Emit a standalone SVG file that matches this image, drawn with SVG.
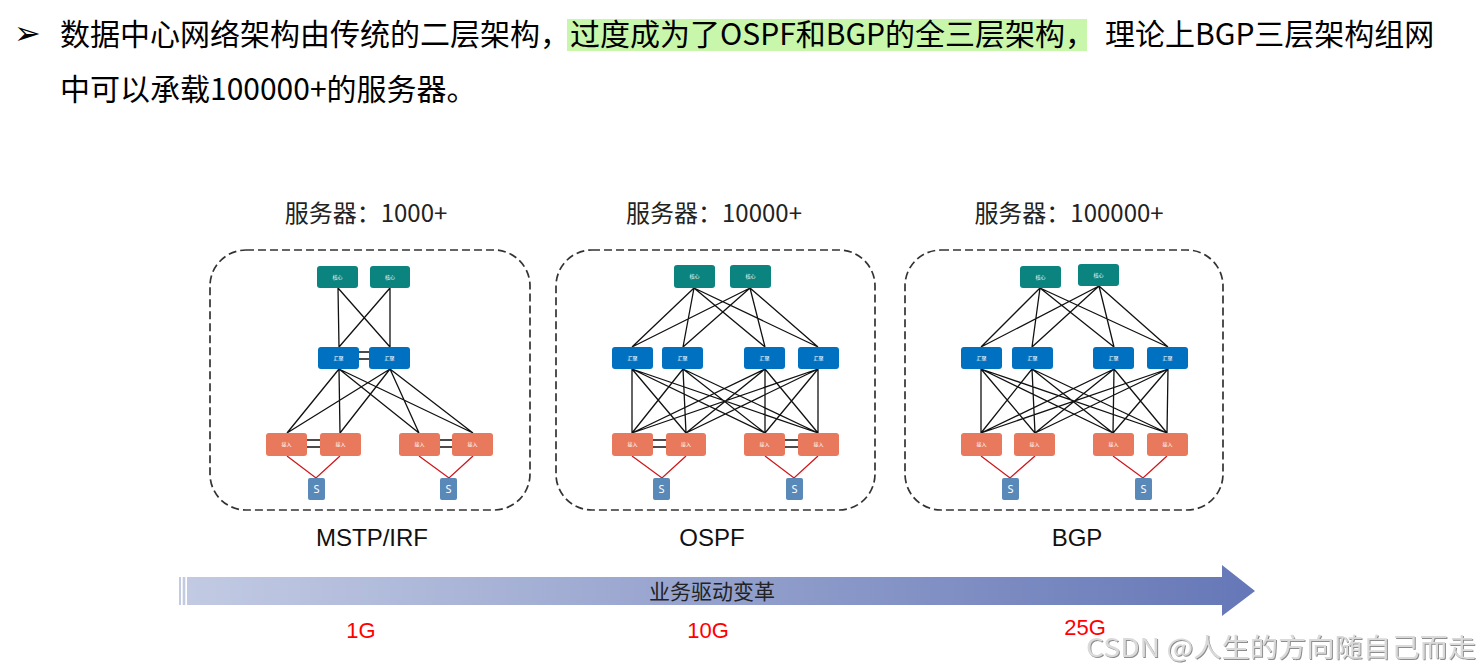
<svg xmlns="http://www.w3.org/2000/svg" width="1483" height="672" viewBox="0 0 1483 672">
<style>
.core{fill:#0B8480}
.agg{fill:#0070C0}
.acc{fill:#E8795C}
.srv{fill:#5889B8}
.lbl{font-family:"Noto Sans CJK SC",sans-serif;font-size:5px;fill:#fff;text-anchor:middle}
.st{font-family:"Noto Sans","Liberation Sans",sans-serif;font-size:11px;fill:#fff;text-anchor:middle}
.ln{stroke:#111;stroke-width:1.3;fill:none}
.rd{stroke:#D0161B;stroke-width:1.3;fill:none}
.frame{fill:none;stroke:#333;stroke-width:1.7;stroke-dasharray:8 4}
.hdr{font-family:"Noto Sans CJK SC",sans-serif;font-size:30px;fill:#000}
.ttl{font-family:"Noto Sans CJK SC",sans-serif;font-size:24px;fill:#222;text-anchor:middle}
.nm{font-family:"Liberation Sans",Arial,sans-serif;font-size:24px;fill:#111;text-anchor:middle}
.bw{font-family:"Liberation Sans",Arial,sans-serif;font-size:22px;fill:#FF0000;text-anchor:middle}
</style>
<defs>
<linearGradient id="ag" gradientUnits="userSpaceOnUse" x1="178" y1="0" x2="1256" y2="0">
<stop offset="0" stop-color="#C3CBE3"/>
<stop offset="1" stop-color="#6577B7"/>
</linearGradient>
<filter id="sh" x="-5%" y="-20%" width="110%" height="140%">
<feDropShadow dx="1" dy="1" stdDeviation="0.6" flood-color="#808080" flood-opacity="0.9"/>
</filter>
</defs>
<rect width="1483" height="672" fill="#fff"/>

<g id="header">
<text x="14" y="44" style="font-family:'DejaVu Sans',sans-serif;font-size:32px;fill:#000">➢</text>
<rect x="567" y="19" width="520" height="32" fill="#C8F7AC"/>
<text class="hdr" x="60" y="45">数据中心网络架构由传统的二层架构，</text>
<text class="hdr" x="570" y="45">过度成为了OSPF和BGP的全三层架构，</text>
<text class="hdr" x="1105" y="45">理论上BGP三层架构组网</text>
<text class="hdr" x="60" y="100">中可以承载100000+的服务器。</text>
</g>

<g id="titles">
<text class="ttl" x="366" y="222">服务器：1000+</text>
<text class="ttl" x="714" y="222">服务器：10000+</text>
<text class="ttl" x="1069" y="222">服务器：100000+</text>
<text class="nm" x="372" y="546">MSTP/IRF</text>
<text class="nm" x="712" y="546">OSPF</text>
<text class="nm" x="1077" y="546">BGP</text>
</g>

<g id="frames">
<rect id="frameA" class="frame" x="210" y="250" width="320" height="260" rx="36"/>
<rect id="frameB" class="frame" x="556" y="250" width="319" height="260" rx="36"/>
<rect id="frameC" class="frame" x="905" y="250" width="318" height="260" rx="36"/>
</g>

<g id="connectors">
<!-- A: MSTP/IRF -->
<path class="ln" d="M338,288L339,347M338,288L390,347M390,288L339,347M390,288L390,347"/>
<path class="ln" d="M339,369L287,433M339,369L340,433M339,369L419,433M339,369L473,433M390,369L287,433M390,369L340,433M390,369L419,433M390,369L473,433"/>
<path class="ln" d="M359,352H369M359,359H369M307,440H320M307,447H320M440,440H452M440,447H452"/>
<path class="rd" d="M287,456L316,478L340,456M419,456L449,478L473,456"/>
<!-- B: OSPF -->
<path class="ln" d="M694,288L632,347M694,288L683,347M694,288L765,347M694,288L818,347M750,288L632,347M750,288L683,347M750,288L765,347M750,288L818,347"/>
<path class="ln" d="M632,369L632,433M632,369L686,433M632,369L765,433M632,369L818,433M683,369L632,433M683,369L686,433M683,369L765,433M683,369L818,433M765,369L632,433M765,369L686,433M765,369L765,433M765,369L818,433M818,369L632,433M818,369L686,433M818,369L765,433M818,369L818,433"/>
<path class="ln" d="M653,440H666M653,447H666M785,440H798M785,447H798"/>
<path class="rd" d="M632,456L662,478L686,456M765,456L794,478L818,456"/>
<!-- C: BGP -->
<path class="ln" d="M1040,288L981,347M1040,288L1032,347M1040,288L1114,347M1040,288L1168,347M1099,286L981,347M1099,286L1032,347M1099,286L1114,347M1099,286L1168,347"/>
<path class="ln" d="M981,369L981,433M981,369L1035,433M981,369L1113,433M981,369L1167,433M1032,369L981,433M1032,369L1035,433M1032,369L1113,433M1032,369L1167,433M1114,369L981,433M1114,369L1035,433M1114,369L1113,433M1114,369L1167,433M1168,369L981,433M1168,369L1035,433M1168,369L1113,433M1168,369L1167,433"/>
<path class="rd" d="M981,456L1010,478L1035,456M1113,456L1143,478L1167,456"/>
</g>

<!-- Nodes A -->
<g id="A-core1"><rect class="core" x="317" y="266" width="41" height="22" rx="3"/><text class="lbl" x="337.5" y="279">核心</text></g>
<g id="A-core2"><rect class="core" x="370" y="266" width="40" height="22" rx="3"/><text class="lbl" x="390" y="279">核心</text></g>
<g id="A-agg1"><rect class="agg" x="318" y="347" width="41" height="22" rx="3"/><text class="lbl" x="338.5" y="360">汇聚</text></g>
<g id="A-agg2"><rect class="agg" x="369" y="347" width="41" height="22" rx="3"/><text class="lbl" x="389.5" y="360">汇聚</text></g>
<g id="A-acc1"><rect class="acc" x="266" y="433" width="41" height="23" rx="3"/><text class="lbl" x="286.5" y="446">接入</text></g>
<g id="A-acc2"><rect class="acc" x="320" y="433" width="41" height="23" rx="3"/><text class="lbl" x="340.5" y="446">接入</text></g>
<g id="A-acc3"><rect class="acc" x="399" y="433" width="41" height="23" rx="3"/><text class="lbl" x="419.5" y="446">接入</text></g>
<g id="A-acc4"><rect class="acc" x="452" y="433" width="41" height="23" rx="3"/><text class="lbl" x="472.5" y="446">接入</text></g>
<g id="A-s1"><rect class="srv" x="308" y="478" width="17" height="22" rx="2"/><text class="st" x="316.5" y="493">S</text></g>
<g id="A-s2"><rect class="srv" x="440" y="478" width="17" height="22" rx="2"/><text class="st" x="448.5" y="493">S</text></g>

<!-- Nodes B -->
<g id="B-core1"><rect class="core" x="674" y="265" width="41" height="23" rx="3"/><text class="lbl" x="694.5" y="278">核心</text></g>
<g id="B-core2"><rect class="core" x="730" y="265" width="41" height="23" rx="3"/><text class="lbl" x="750.5" y="278">核心</text></g>
<g id="B-agg1"><rect class="agg" x="612" y="347" width="41" height="22" rx="3"/><text class="lbl" x="632.5" y="360">汇聚</text></g>
<g id="B-agg2"><rect class="agg" x="662" y="347" width="41" height="22" rx="3"/><text class="lbl" x="682.5" y="360">汇聚</text></g>
<g id="B-agg3"><rect class="agg" x="744" y="347" width="41" height="22" rx="3"/><text class="lbl" x="764.5" y="360">汇聚</text></g>
<g id="B-agg4"><rect class="agg" x="798" y="347" width="41" height="22" rx="3"/><text class="lbl" x="818.5" y="360">汇聚</text></g>
<g id="B-acc1"><rect class="acc" x="612" y="433" width="41" height="23" rx="3"/><text class="lbl" x="632.5" y="446">接入</text></g>
<g id="B-acc2"><rect class="acc" x="666" y="433" width="40" height="23" rx="3"/><text class="lbl" x="686" y="446">接入</text></g>
<g id="B-acc3"><rect class="acc" x="744" y="433" width="41" height="23" rx="3"/><text class="lbl" x="764.5" y="446">接入</text></g>
<g id="B-acc4"><rect class="acc" x="798" y="433" width="41" height="23" rx="3"/><text class="lbl" x="818.5" y="446">接入</text></g>
<g id="B-s1"><rect class="srv" x="653" y="478" width="17" height="22" rx="2"/><text class="st" x="661.5" y="493">S</text></g>
<g id="B-s2"><rect class="srv" x="786" y="478" width="17" height="22" rx="2"/><text class="st" x="794.5" y="493">S</text></g>

<!-- Nodes C -->
<g id="C-core1"><rect class="core" x="1020" y="266" width="41" height="22" rx="3"/><text class="lbl" x="1040.5" y="279">核心</text></g>
<g id="C-core2"><rect class="core" x="1078" y="264" width="41" height="22" rx="3"/><text class="lbl" x="1098.5" y="277">核心</text></g>
<g id="C-agg1"><rect class="agg" x="961" y="347" width="41" height="22" rx="3"/><text class="lbl" x="981.5" y="360">汇聚</text></g>
<g id="C-agg2"><rect class="agg" x="1012" y="347" width="41" height="22" rx="3"/><text class="lbl" x="1032.5" y="360">汇聚</text></g>
<g id="C-agg3"><rect class="agg" x="1093" y="347" width="41" height="22" rx="3"/><text class="lbl" x="1113.5" y="360">汇聚</text></g>
<g id="C-agg4"><rect class="agg" x="1147" y="347" width="41" height="22" rx="3"/><text class="lbl" x="1167.5" y="360">汇聚</text></g>
<g id="C-acc1"><rect class="acc" x="961" y="433" width="41" height="23" rx="3"/><text class="lbl" x="981.5" y="446">接入</text></g>
<g id="C-acc2"><rect class="acc" x="1014" y="433" width="41" height="23" rx="3"/><text class="lbl" x="1034.5" y="446">接入</text></g>
<g id="C-acc3"><rect class="acc" x="1093" y="433" width="41" height="23" rx="3"/><text class="lbl" x="1113.5" y="446">接入</text></g>
<g id="C-acc4"><rect class="acc" x="1147" y="433" width="41" height="23" rx="3"/><text class="lbl" x="1167.5" y="446">接入</text></g>
<g id="C-s1"><rect class="srv" x="1002" y="478" width="17" height="22" rx="2"/><text class="st" x="1010.5" y="493">S</text></g>
<g id="C-s2"><rect class="srv" x="1135" y="478" width="17" height="22" rx="2"/><text class="st" x="1143.5" y="493">S</text></g>

<g id="timeline">
<rect x="179" y="577" width="2" height="28" fill="#C3CBE3"/>
<rect x="182.7" y="577" width="2.6" height="28" fill="#C3CBE3"/>
<path d="M187,577H1222V565L1255,591L1222,616V605H187Z" fill="url(#ag)"/>
<text x="712" y="599" style="font-family:'Noto Sans CJK SC',sans-serif;font-size:21px;fill:#222;text-anchor:middle">业务驱动变革</text>
<text class="bw" x="361" y="638">1G</text>
<text class="bw" x="708" y="638">10G</text>
<text class="bw" x="1085" y="635">25G</text>
</g>

<g id="watermark">
<text x="1086" y="657" textLength="390" lengthAdjust="spacingAndGlyphs" filter="url(#sh)" style="font-family:'Noto Sans CJK SC',sans-serif;font-size:26px;fill:#DADADA">CSDN @人生的方向随自己而走</text>
</g>
</svg>
